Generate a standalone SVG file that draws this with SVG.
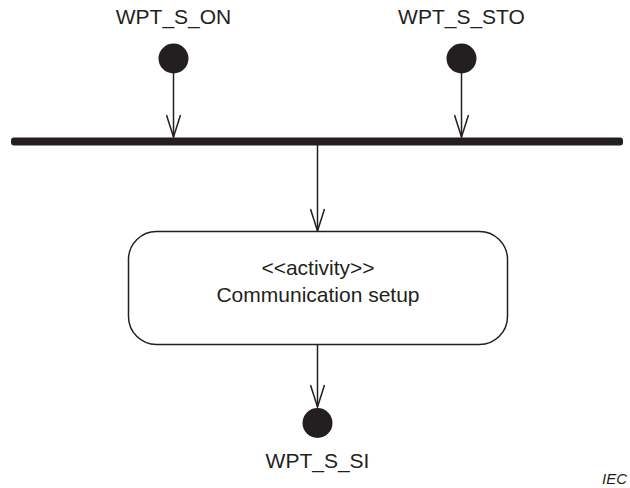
<svg xmlns="http://www.w3.org/2000/svg" width="630" height="488" viewBox="0 0 630 488">
<style>
  text { font-family: "Liberation Sans", Arial, sans-serif; fill: #231f20; }
  .lbl { font-size: 21px; text-anchor: middle; }
  .dot { fill: #231f20; }
  .edge { stroke: #231f20; stroke-width: 1.5; fill: none; }
  .box { fill: #ffffff; stroke: #231f20; stroke-width: 1.5; }
</style>
<defs>
  <marker id="open" viewBox="0 0 24 16" refX="23" refY="8" markerWidth="24" markerHeight="16" markerUnits="userSpaceOnUse" orient="auto">
    <path d="M1,1 L23,8 L1,15" fill="none" stroke="#231f20" stroke-width="1.5"/>
  </marker>
</defs>
<rect width="630" height="488" fill="#ffffff"/>

<g id="start_on">
  <circle class="dot" cx="173.5" cy="58.5" r="15"/>
  <text class="lbl" x="173.5" y="24">WPT_S_ON</text>
</g>
<g id="start_sto">
  <circle class="dot" cx="461.5" cy="58.5" r="15"/>
  <text class="lbl" x="461.5" y="24">WPT_S_STO</text>
</g>
<g id="join_bar">
  <rect x="11" y="137.5" width="612" height="8" rx="3" fill="#231f20"/>
</g>
<g id="activity">
  <rect class="box" x="128.5" y="231.5" width="379" height="113" rx="28" ry="28"/>
  <text class="lbl" x="318" y="275">&lt;&lt;activity&gt;&gt;</text>
  <text class="lbl" x="318" y="302">Communication setup</text>
</g>
<g id="end_si">
  <circle class="dot" cx="317.5" cy="423" r="15"/>
  <text class="lbl" x="317.5" y="468">WPT_S_SI</text>
</g>

<g id="connectors">
  <line class="edge" x1="173.5" y1="73" x2="173.5" y2="137" marker-end="url(#open)"/>
  <line class="edge" x1="461.5" y1="73" x2="461.5" y2="137" marker-end="url(#open)"/>
  <line class="edge" x1="317.5" y1="145" x2="317.5" y2="231" marker-end="url(#open)"/>
  <line class="edge" x1="317.5" y1="345" x2="317.5" y2="407" marker-end="url(#open)"/>
</g>

<text x="627" y="484" font-size="15" font-style="italic" text-anchor="end">IEC</text>
</svg>
